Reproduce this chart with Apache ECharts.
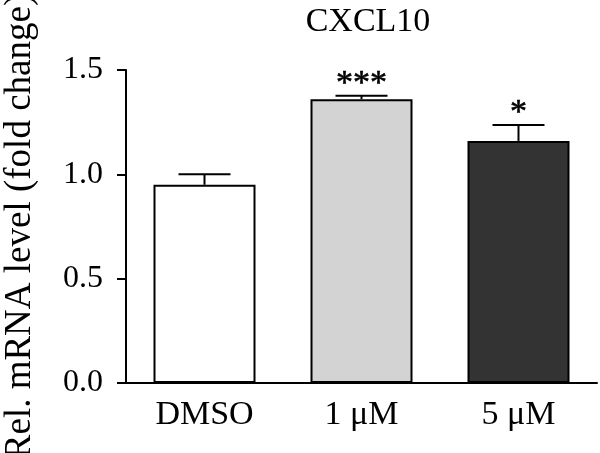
<!DOCTYPE html>
<html>
<head>
<meta charset="utf-8">
<script src="https://cdn.jsdelivr.net/npm/echarts@6/dist/echarts.min.js"></script>
<style>
  html, body { margin: 0; padding: 0; background: #fff; }
  #main { width: 600px; height: 453px; }
</style>
</head>
<body>
<div id="main"></div>
<script>
var categories = ['DMSO', '1 μM', '5 μM'];
var means = [0.95, 1.36, 1.16];
var errors = [0.05, 0.017, 0.076];
var stars = ['', '***', '*'];
var barColors = ['#ffffff', '#d3d3d3', '#333333'];
var yTicks = [0, 0.5, 1.0, 1.5];

var font = '"Liberation Serif", "Times New Roman", serif';
var myChart = echarts.init(document.getElementById('main'));

var option = {
    animation: false,
    title: {
        text: 'CXCL10',
        left: 363,
        top: 0,
        textAlign: 'center',
        textStyle: { fontFamily: font, fontSize: 34, fontWeight: 'normal', color: '#000' }
    },
    grid: { left: 126, right: 3, top: 70, bottom: 70, outerBoundsMode: 'none', containLabel: false },
    xAxis: {
        type: 'category',
        data: categories,
        axisLine: { lineStyle: { color: '#000', width: 2 } },
        axisTick: { alignWithLabel: true, length: 9, lineStyle: { color: '#000', width: 2 } },
        axisLabel: { margin: 15, fontFamily: font, fontSize: 34, color: '#000' }
    },
    yAxis: {
        type: 'value',
        min: yTicks[0],
        max: yTicks[yTicks.length - 1],
        interval: 0.5,
        name: 'Rel. mRNA level (fold change)',
        nameLocation: 'middle',
        nameGap: 87,
        nameTextStyle: { fontFamily: font, fontSize: 37, color: '#000' },
        axisLine: { show: true, lineStyle: { color: '#000', width: 2 } },
        axisTick: { show: true, length: 9, lineStyle: { color: '#000', width: 2 } },
        splitLine: { show: false },
        axisLabel: {
            margin: 23, fontFamily: font, fontSize: 32, color: '#000',
            formatter: function (v) { return v.toFixed(1); }
        }
    },
    series: [
        {
            type: 'bar',
            barWidth: 102,
            data: means.map(function (v, i) {
                return { value: v, itemStyle: { color: barColors[i] } };
            }),
            itemStyle: { borderColor: '#000', borderWidth: 2 }
        },
        {
            type: 'custom',
            data: means.map(function (v, i) { return [i, v, errors[i]]; }),
            z: 5,
            renderItem: function (params, api) {
                var i = api.value(0);
                var m = api.value(1);
                var e = api.value(2);
                var base = api.coord([i, m]);
                var top = api.coord([i, m + e]);
                var half = 26;
                var children = [
                    { type: 'line', shape: { x1: base[0], y1: base[1], x2: top[0], y2: top[1] },
                      style: { stroke: '#000', lineWidth: 2 } },
                    { type: 'line', shape: { x1: top[0] - half, y1: top[1], x2: top[0] + half, y2: top[1] },
                      style: { stroke: '#000', lineWidth: 2 } }
                ];
                var s = stars[params.dataIndex];
                if (s) {
                    children.push({
                        type: 'text',
                        style: {
                            x: top[0], y: top[1] - 12, text: s,
                            align: 'center', verticalAlign: 'middle',
                            font: '34px ' + font, fill: '#000',
                            stroke: '#000', lineWidth: 0.6
                        }
                    });
                }
                return { type: 'group', children: children };
            }
        }
    ]
};
myChart.setOption(option);
</script>
</body>
</html>
